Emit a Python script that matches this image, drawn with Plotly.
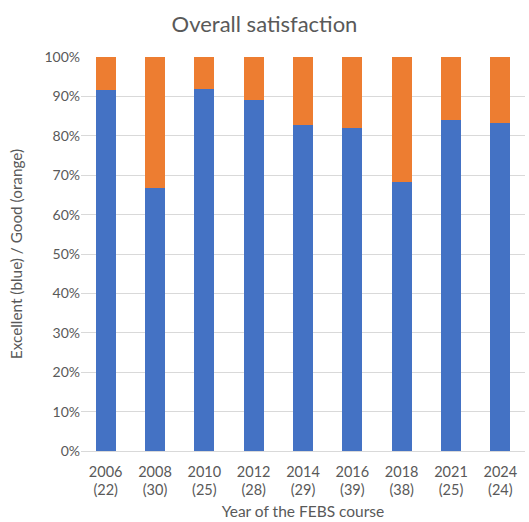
import plotly.graph_objects as go

years = ["2006", "2008", "2010", "2012", "2014", "2016", "2018", "2021", "2024"]
counts = [22, 30, 25, 28, 29, 39, 38, 25, 24]
excellent = [91.6, 66.7, 91.9, 89.2, 82.7, 81.9, 68.4, 83.9, 83.2]
good = [100 - v for v in excellent]

labels = [f"{y}<br>({n})" for y, n in zip(years, counts)]

font_family = "Lato, 'Open Sans', sans-serif"
grey = "#595959"

fig = go.Figure()
fig.add_trace(go.Bar(x=labels, y=excellent, name="Excellent",
                     marker=dict(color="#4472C4", line=dict(width=0))))
fig.add_trace(go.Bar(x=labels, y=good, name="Good",
                     marker=dict(color="#ED7D31", line=dict(width=0))))

fig.update_layout(
    barmode="stack",
    bargap=0.59,
    width=529, height=522,
    margin=dict(l=81, r=4, t=57, b=71),
    paper_bgcolor="white", plot_bgcolor="white",
    showlegend=False,
    title=dict(text="Overall satisfaction", x=0.5, xanchor="center",
               y=0.954, yanchor="middle",
               font=dict(family=font_family, size=22, color=grey)),
    font=dict(family=font_family, color=grey, size=14),
)
fig.update_xaxes(
    title=dict(text="Year of the FEBS course", font=dict(size=15.5, color=grey), standoff=8),
    tickfont=dict(size=14.5, color=grey),
    ticklabelstandoff=10,
    automargin=False,
    showgrid=False, showline=False, ticks="",
)
fig.update_yaxes(
    range=[0, 100], dtick=10, ticksuffix="%",
    tickfont=dict(size=14, color=grey),
    showgrid=True, gridcolor="#d9d9d9", gridwidth=1,
    zeroline=True, zerolinecolor="#d9d9d9", zerolinewidth=1,
    showline=False, ticks="",
    automargin=False,
    title=dict(text="Excellent (blue) / Good (orange)", font=dict(size=15.3, color=grey), standoff=18),
)

fig.write_html("out.html")
